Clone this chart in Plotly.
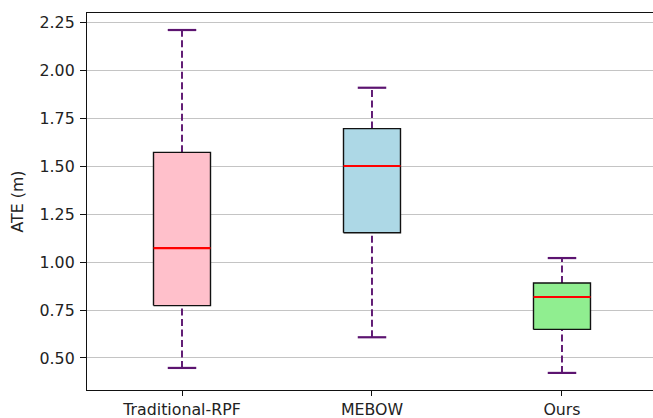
import plotly.graph_objects as go

categories = ["Traditional-RPF", "MEBOW", "Ours"]
positions = [1, 2, 3]
lower_whisker = [0.448, 0.608, 0.422]
q1 = [0.773, 1.153, 0.649]
median = [1.073, 1.501, 0.818]
q3 = [1.572, 1.696, 0.891]
upper_whisker = [2.210, 1.909, 1.021]
box_colors = ["#FFC0CB", "#ADD8E6", "#90EE90"]
y_ticks = [0.50, 0.75, 1.00, 1.25, 1.50, 1.75, 2.00, 2.25]

HALF_BOX = 0.15
HALF_CAP = 0.075
WHISKER_COLOR = "#5c1470"
FONT_SIZE = 15.8

fig = go.Figure()

for i, pos in enumerate(positions):
    # whiskers (dashed)
    fig.add_trace(go.Scatter(
        x=[pos, pos, None, pos, pos],
        y=[lower_whisker[i], q1[i], None, q3[i], upper_whisker[i]],
        mode="lines", line=dict(color=WHISKER_COLOR, width=1.9, dash="7px,3.5px"),
        hoverinfo="skip", showlegend=False))
    # caps
    fig.add_trace(go.Scatter(
        x=[pos - HALF_CAP, pos + HALF_CAP, None, pos - HALF_CAP, pos + HALF_CAP],
        y=[lower_whisker[i], lower_whisker[i], None, upper_whisker[i], upper_whisker[i]],
        mode="lines", line=dict(color=WHISKER_COLOR, width=2.2),
        hoverinfo="skip", showlegend=False))
    # box
    fig.add_trace(go.Scatter(
        x=[pos - HALF_BOX, pos + HALF_BOX, pos + HALF_BOX, pos - HALF_BOX, pos - HALF_BOX],
        y=[q1[i], q1[i], q3[i], q3[i], q1[i]],
        mode="lines", fill="toself", fillcolor=box_colors[i],
        line=dict(color="#111111", width=1.4),
        hoverinfo="skip", showlegend=False))
    # median
    fig.add_trace(go.Scatter(
        x=[pos - HALF_BOX, pos + HALF_BOX],
        y=[median[i], median[i]],
        mode="lines", line=dict(color="red", width=2.2),
        hoverinfo="skip", showlegend=False))

fig.update_layout(
    width=653, height=418,
    margin=dict(l=87, r=0, t=13, b=28),
    plot_bgcolor="white", paper_bgcolor="white",
    font=dict(family="DejaVu Sans", size=FONT_SIZE, color="#222222"),
    showlegend=False,
)
fig.update_xaxes(
    range=[0.5, 3.479],
    tickmode="array", tickvals=positions, ticktext=categories,
    showgrid=False, zeroline=False,
    showline=True, mirror=True, linecolor="#111111", linewidth=1.2,
    ticks="outside", ticklen=5, tickwidth=1.2, tickcolor="#111111",
    ticklabelstandoff=0,
    automargin=False,
)
fig.update_yaxes(
    range=[0.333, 2.2987],
    tickmode="array", tickvals=y_ticks, ticktext=[f"{v:.2f}" for v in y_ticks],
    showgrid=True, gridcolor="#c4c4c4", gridwidth=1.1, zeroline=False,
    showline=True, mirror=False, linecolor="#111111", linewidth=1.2,
    ticks="outside", ticklen=6, tickwidth=1.2, tickcolor="#111111",
    ticklabelstandoff=2,
    title=dict(text="ATE (m)", standoff=12, font=dict(size=FONT_SIZE)),
    automargin=False,
)

fig.write_html(
    "out.html",
    config={"displayModeBar": False},
    post_script=(
        "document.documentElement.style.overflow='hidden';"
        "document.body.style.overflow='hidden';"
        "document.body.style.margin='0';"
    ),
)
